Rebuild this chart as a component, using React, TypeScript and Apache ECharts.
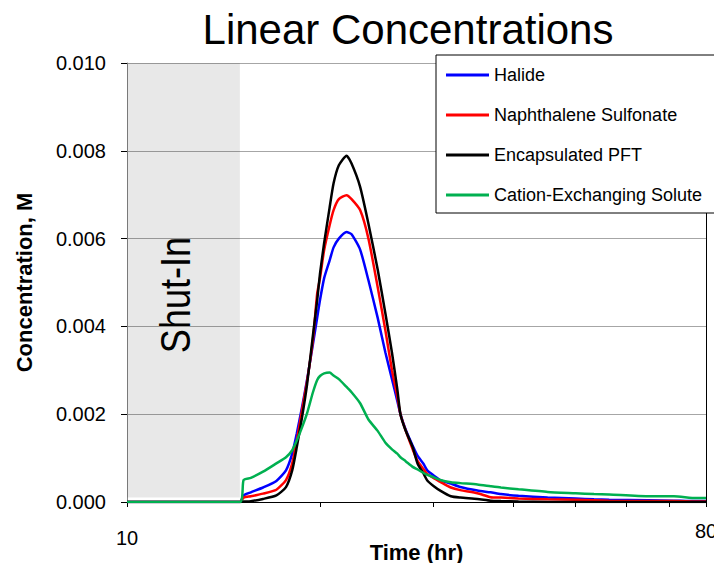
import React, { useEffect, useRef } from "react";
import * as echarts from "echarts";

const FONT = '"Liberation Sans", Arial, sans-serif';

const seriesNames = [
  "Halide",
  "Naphthalene Sulfonate",
  "Encapsulated PFT",
  "Cation-Exchanging Solute",
];
const seriesColors = ["#0000ff", "#ff0000", "#000000", "#00b050"];

const times = [
  10, 15, 15.2, 15.6, 16.3, 17.1, 17.7, 18.1, 18.4, 18.75, 19.1, 19.5, 19.8, 20.0,
  20.3, 20.7, 21.0, 21.4, 22.0, 22.4, 23.1, 23.8, 24.6, 25.3, 25.9, 26.4, 26.7,
  27.2, 27.9, 28.4, 29.0, 29.4, 30.1, 30.8, 32.0, 33.1, 35.2, 36.9, 38.3, 40.8,
  45.3, 50.1, 53.5, 56.5, 64.9, 71.3, 77.2, 80,
];

const halide = [
  0, 0, 0.00015, 0.00022, 0.00033, 0.00048, 0.00072, 0.0011, 0.00156, 0.00216,
  0.0028, 0.0036, 0.0042, 0.0046, 0.0051, 0.0055, 0.0058, 0.006, 0.00615, 0.0061,
  0.00575, 0.00505, 0.0042, 0.0034, 0.0028, 0.0023, 0.002, 0.00165, 0.00128,
  0.00105, 0.00087, 0.00072, 0.0006, 0.0005, 0.00042, 0.00034, 0.00026, 0.00022,
  0.00018, 0.00014, 0.0001, 0.00008, 0.00006, 0.00005, 0.00004, 0.00003, 0.00002,
  0.00002,
];

const naphthalene = [
  0, 0, 0.0001, 0.00013, 0.00019, 0.00028, 0.0005, 0.00088, 0.0014, 0.00209,
  0.00277, 0.0037, 0.00475, 0.0051, 0.00574, 0.0063, 0.00665, 0.0069, 0.00699,
  0.0069, 0.00665, 0.006, 0.0049, 0.0039, 0.003, 0.0024, 0.002, 0.00163, 0.0012,
  0.00093, 0.00075, 0.00064, 0.00054, 0.00046, 0.00033, 0.00027, 0.0002, 0.00011,
  0.0001, 0.00008, 0.00006, 0.00005, 0.00004, 0.00003, 0.00002, 0.00002, 0.00001,
  0.00001,
];

const pft = [
  0, 0, 0.00001, 0.00002, 0.00007, 0.00015, 0.00034, 0.00072, 0.00125, 0.00193,
  0.0027, 0.0038, 0.0046, 0.0052, 0.0059, 0.0067, 0.00726, 0.00767, 0.00789,
  0.00771, 0.00718, 0.00634, 0.0053, 0.00429, 0.0034, 0.00257, 0.002, 0.00163,
  0.00125, 0.00087, 0.00065, 0.00049, 0.00036, 0.00026, 0.00013, 0.0001, 0.00007,
  0.00003, 0.00002, 0.00001, 0, 0, 0, 0, 0, 0, 0, 0,
];

const cation = [
  0, 0, 0.0005, 0.00055, 0.00069, 0.00088, 0.00102, 0.00118, 0.0014, 0.0017,
  0.00203, 0.0025, 0.00278, 0.00287, 0.00293, 0.00295, 0.00288, 0.0028, 0.00262,
  0.0025, 0.00225, 0.00188, 0.00162, 0.00135, 0.0012, 0.0011, 0.00102, 0.00093,
  0.0008, 0.00074, 0.00066, 0.00062, 0.00056, 0.0005, 0.00045, 0.00043, 0.0004,
  0.00036, 0.00033, 0.00029, 0.00023, 0.0002, 0.00018, 0.00017, 0.00013, 0.00013,
  0.00009, 0.00009,
];

const seriesValues = [halide, naphthalene, pft, cation];

const shutIn = [10, 15];
const yRange = [0, 0.01];
const yStep = 0.002;
const xTickValues = [10, 20, 30, 40, 50, 60, 70, 80];
const xLabelValues = [10, 80];

export default function App() {
  const ref = useRef<HTMLDivElement>(null);

  useEffect(() => {
    if (!ref.current) return;
    const chart = echarts.init(ref.current, undefined, { renderer: "svg" });

    const series: any[] = seriesNames.map((name, i) => ({
      name,
      type: "line",
      color: seriesColors[i],
      showSymbol: false,
      symbol: "none",
      smooth: 0.2,
      lineStyle: { width: 2.5, color: seriesColors[i] },
      data: times.map((t, j) => [t, seriesValues[i][j]]),
      z: 3 + i,
      markArea:
        i === 0
          ? {
              silent: true,
              itemStyle: { color: "rgba(0,0,0,0.09)" },
              data: [
                [
                  { xAxis: shutIn[0], yAxis: 0.0001 },
                  { xAxis: shutIn[1], yAxis: yRange[1] },
                ],
              ],
            }
          : undefined,
    }));

    const option: any = {
      animation: false,
      backgroundColor: "#ffffff",
      textStyle: { fontFamily: FONT },
      grid: {
        left: 127,
        right: 8,
        top: 63,
        bottom: 61,
        containLabel: false,
        outerBoundsMode: "none",
      },
      legend: {
        orient: "vertical",
        left: 436,
        top: 55,
        padding: [11, 14, 9, 10],
        itemGap: 22,
        itemWidth: 43,
        itemHeight: 3,
        icon: "rect",
        backgroundColor: "#ffffff",
        borderColor: "#000000",
        borderWidth: 1,
        borderRadius: 0,
        textStyle: { fontSize: 18, color: "#000", fontFamily: FONT },
        data: seriesNames,
      },
      graphic: [
        {
          type: "text",
          x: 408,
          y: 29,
          style: {
            text: "Linear Concentrations",
            fontSize: 42,
            fontFamily: FONT,
            fill: "#000",
            align: "center",
            verticalAlign: "middle",
          },
        },
        {
          type: "text",
          x: 176,
          y: 295,
          rotation: Math.PI / 2,
          scaleX: 0.86,
          style: {
            text: "Shut-In",
            fontSize: 42,
            fontFamily: FONT,
            fill: "#000",
            align: "center",
            verticalAlign: "middle",
          },
        },
      ],
      xAxis: [
        {
          type: "log",
          logBase: 10,
          min: 10,
          max: 80,
          name: "Time (hr)",
          nameLocation: "middle",
          nameGap: 39,
          nameMoveOverlap: false,
          nameTextStyle: {
            fontSize: 22,
            fontWeight: "bold",
            color: "#000",
            fontFamily: FONT,
          },
          axisLine: { show: true, lineStyle: { color: "#000", width: 1 } },
          axisTick: {
            show: true,
            inside: false,
            length: 5,
            customValues: xTickValues,
            lineStyle: { color: "#000" },
          },
          minorTick: { show: false },
          axisLabel: {
            customValues: xLabelValues,
            margin: 26,
            color: "#000",
            fontSize: 20,
            fontFamily: FONT,
            formatter: (v: number) =>
              Math.round(v) === 80 ? `{hi|${Math.round(v)}}` : `{lo|${Math.round(v)}}`,
            rich: {
              lo: { fontSize: 20, lineHeight: 20, fontFamily: FONT, color: "#000" },
              hi: { fontSize: 20, lineHeight: 5, fontFamily: FONT, color: "#000" },
            },
          },
          splitLine: { show: false },
        },
        {
          type: "log",
          logBase: 10,
          min: 10,
          max: 80,
          position: "top",
          axisLine: { show: true, lineStyle: { color: "#000", width: 1 } },
          axisTick: { show: false },
          axisLabel: { show: false },
          splitLine: { show: false },
        },
      ],
      yAxis: [
        {
          type: "value",
          min: yRange[0],
          max: yRange[1],
          interval: yStep,
          name: "Concentration, M",
          nameLocation: "middle",
          nameRotate: 90,
          nameGap: 92,
          nameMoveOverlap: false,
          nameTextStyle: {
            fontSize: 22,
            fontWeight: "bold",
            color: "#000",
            fontFamily: FONT,
          },
          axisLine: { show: true, lineStyle: { color: "#868686", width: 1 } },
          axisTick: { show: true, length: 6, lineStyle: { color: "#000" } },
          axisLabel: {
            formatter: (v: number) => v.toFixed(3),
            fontSize: 20,
            margin: 21,
            color: "#000",
            fontFamily: FONT,
          },
          splitLine: { show: true, lineStyle: { color: "#a6a6a6", width: 1 } },
        },
        {
          type: "value",
          min: yRange[0],
          max: yRange[1],
          interval: yStep,
          position: "right",
          axisLine: { show: true, lineStyle: { color: "#000", width: 1 } },
          axisTick: { show: false },
          axisLabel: { show: false },
          splitLine: { show: false },
        },
      ],
      series,
    };

    chart.setOption(option);
    return () => chart.dispose();
  }, []);

  return (
    <div
      ref={ref}
      style={{ position: "fixed", left: 0, top: 0, width: 714, height: 563 }}
    />
  );
}
